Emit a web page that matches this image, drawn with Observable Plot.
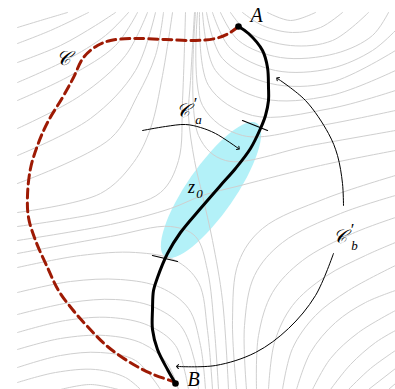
<!DOCTYPE html>
<html><head><meta charset="utf-8">
<script src="https://cdn.jsdelivr.net/npm/d3@7"></script>
<script src="https://cdn.jsdelivr.net/npm/@observablehq/plot@0.6"></script>
<style>body{margin:0;background:#fff}</style>
</head><body><div id="chart"></div>
<script>
// ---- data (pixel-like units, y downward) ----
const topLeftLevels = [
  [[17,27],[40,20],[67,12]],
  [[17,43],[50,30],[88,12]],
  [[17,62],[60,45],[95,25],[115,12]],
  [[17,82],[65,60],[105,35],[128,12]],
  [[17,100],[70,75],[115,45],[137,12]],
  [[17,128],[80,95],[125,55],[147,12]],
  [[17,155],[90,118],[135,70],[155,12]],
  [[17,183],[110,138],[137,95],[155,55],[163,12]],
  [[17,212],[100,193],[133,162],[150,128],[162,75],[172,12]],
  [[17,226],[110,210],[160,192],[178,160],[182,100],[185,12]]
];
const separatrices = [
  [[194,12],[190,80],[188,115],[194,160],[202,195],[212,240],[222,300],[228,389]],
  [[17,240],[110,224],[170,208],[202,195],[240,185],[320,165],[395,150]]
];
const topRightLevels = [
  [[267,12],[290,20],[315,12]],
  [[242,12],[262,25],[292,32],[320,27],[342,12]],
  [[230,12],[248,32],[290,45],[332,40],[368,12]],
  [[220,12],[238,40],[280,57],[335,53],[372,35],[388,12]],
  [[212,12],[230,48],[275,70],[330,68],[372,50],[395,30]],
  [[206,12],[222,58],[270,83],[330,82],[395,50]],
  [[202,12],[215,70],[262,98],[330,95],[395,70]],
  [[199,12],[208,85],[252,115],[330,108],[395,90]],
  [[197,12],[202,105],[242,135],[320,125],[395,110]],
  [[195,12],[198,135],[225,160],[310,145],[395,130]]
];
const bottomRightLevels = [
  [[236,389],[232,320],[238,262],[262,228],[325,198],[395,175]],
  [[246,389],[244,325],[254,275],[282,242],[340,213],[395,195]],
  [[256,389],[258,335],[272,292],[302,260],[352,233],[395,217]],
  [[268,389],[274,342],[292,305],[325,276],[365,255],[395,242]],
  [[282,389],[292,348],[315,315],[348,290],[395,265]],
  [[296,389],[310,352],[335,322],[365,302],[395,290]],
  [[312,389],[330,358],[358,332],[395,310]],
  [[330,389],[350,364],[375,342],[395,330]],
  [[348,389],[370,368],[395,350]],
  [[368,389],[395,368]],
  [[388,389],[395,383]]
];
const bottomLeftLevels = [
  [[17,253],[110,236],[170,226],[195,236],[207,270],[214,330],[218,389]],
  [[17,267],[80,255],[135,252],[175,260],[198,282],[207,330],[212,389]],
  [[17,292],[70,281],[120,279],[160,287],[188,308],[200,345],[205,389]],
  [[17,314],[70,302],[115,299],[152,306],[180,325],[194,360],[198,389]],
  [[17,332],[65,320],[110,317],[148,325],[175,345],[188,389]],
  [[17,349],[60,338],[105,335],[142,343],[166,362],[178,389]],
  [[17,367],[60,355],[100,352],[135,360],[160,389]],
  [[17,382],[55,372],[95,369],[125,377],[140,389]],
  [[60,389],[90,384],[118,389]]
];
const steepestPath = [[238,26],[248,33],[262,50],[267,67],[268,87],[268,100],[265,115],[260,128],[250,148],[235,168],[220,185],[200,208],[180,232],[167,253],[157,277],[153,290],[152,309],[152,329],[157,349],[167,369],[175,383]];
const contourC = [[238,26],[228,33],[215,38],[195,40],[165,39],[133,38],[110,40],[97,45],[83,57],[73,77],[62,97],[47,122],[37,145],[30,168],[27,195],[28,217],[35,240],[47,267],[58,290],[72,309],[87,326],[107,346],[133,364],[153,374],[173,381]];
const tickMarks = [[[242,120],[267,130]],[[152,255],[177,261]]];
const arrowPaths = [
  [[142,130],[165,126],[185,124],[200,127],[215,133],[238,148]],
  [[343,205],[342,183],[337,155],[328,133],[305,100],[277,78]],
  [[333,253],[315,295],[288,328],[255,352],[215,365],[177,366]]
];
const endpoints = [{name:"A",x:238,y:26},{name:"B",x:175,y:383}];
const ellipse = {cx:211, cy:190, rx:81, ry:24, angle:-55.3};
const mainLabels = [
  {t:"A", x:256, y:15, s:20},
  {t:"B", x:193, y:379, s:20},
  {t:"𝒞", x:63, y:58, s:20},
  {t:"𝒞", x:182, y:110, s:19},
  {t:"𝒞", x:339, y:236, s:19},
  {t:"z", x:191, y:187, s:18}
];
const primeLabels = [
  {t:"′", x:195, y:103},
  {t:"′", x:352, y:229}
];
const subLabels = [
  {t:"a", x:198, y:119},
  {t:"b", x:354, y:245},
  {t:"0", x:199, y:193}
];

// ---- build tables ----
const toRows = (lines, group) => lines.flatMap((pts, i) => pts.map(([x,y]) => ({x, y, id: group + i})));
const grayRows = [
  ...toRows(topLeftLevels,"tl"), ...toRows(separatrices,"sp"), ...toRows(topRightLevels,"tr"),
  ...toRows(bottomRightLevels,"br"), ...toRows(bottomLeftLevels,"bl")
];
const pathRows = steepestPath.map(([x,y]) => ({x,y}));
const cRows = contourC.map(([x,y]) => ({x,y}));
const tickRows = toRows(tickMarks,"tk");
const arrowRows = toRows(arrowPaths,"ar");

const ellipseMark = Plot.dot([ellipse], {x:"cx", y:"cy", r:0,
  render: (index, scales) => {
    const cx = scales.x(ellipse.cx), cy = scales.y(ellipse.cy);
    const rx = Math.abs(scales.x(ellipse.cx + ellipse.rx) - cx);
    const ry = Math.abs(scales.x(ellipse.cx + ellipse.ry) - cx);
    const g = d3.create("svg:g");
    g.append("ellipse").attr("cx",cx).attr("cy",cy).attr("rx",rx).attr("ry",ry)
      .attr("fill","#b3f1f8").attr("transform",`rotate(${ellipse.angle} ${cx} ${cy})`);
    return g.node();
  }});

const serif = "'Liberation Serif', 'DejaVu Serif', serif";
const chart = Plot.plot({
  width: 395, height: 389, margin: 0,
  x: {domain:[0,395], axis:null},
  y: {domain:[0,389], reverse:true, axis:null},
  style: {background:"#fff"},
  marks: [
    ellipseMark,
    Plot.line(grayRows, {x:"x", y:"y", z:"id", curve:"catmull-rom", stroke:"#cfcfcf", strokeWidth:1}),
    Plot.line(cRows, {x:"x", y:"y", curve:"catmull-rom", stroke:"#9e1a04", strokeWidth:3, strokeDasharray:"9,5"}),
    Plot.line(pathRows, {x:"x", y:"y", curve:"catmull-rom", stroke:"#000", strokeWidth:3}),
    Plot.line(tickRows, {x:"x", y:"y", z:"id", stroke:"#000", strokeWidth:1.2}),
    Plot.line(arrowRows, {x:"x", y:"y", z:"id", curve:"catmull-rom", stroke:"#000", strokeWidth:1, markerEnd:"arrow"}),
    Plot.dot(endpoints, {x:"x", y:"y", r:3.3, fill:"#000"}),
    Plot.text(mainLabels, {x:"x", y:"y", text:"t", fontSize:d=>d.s, fontFamily:serif, fontStyle:"italic", fill:"#000"}),
    Plot.text(primeLabels, {x:"x", y:"y", text:"t", fontSize:17, fontFamily:serif, fill:"#000"}),
    Plot.text(subLabels, {x:"x", y:"y", text:"t", fontSize:13, fontFamily:serif, fontStyle:"italic", fill:"#000"})
  ]
});
document.getElementById("chart").append(chart);
</script>
</body></html>
